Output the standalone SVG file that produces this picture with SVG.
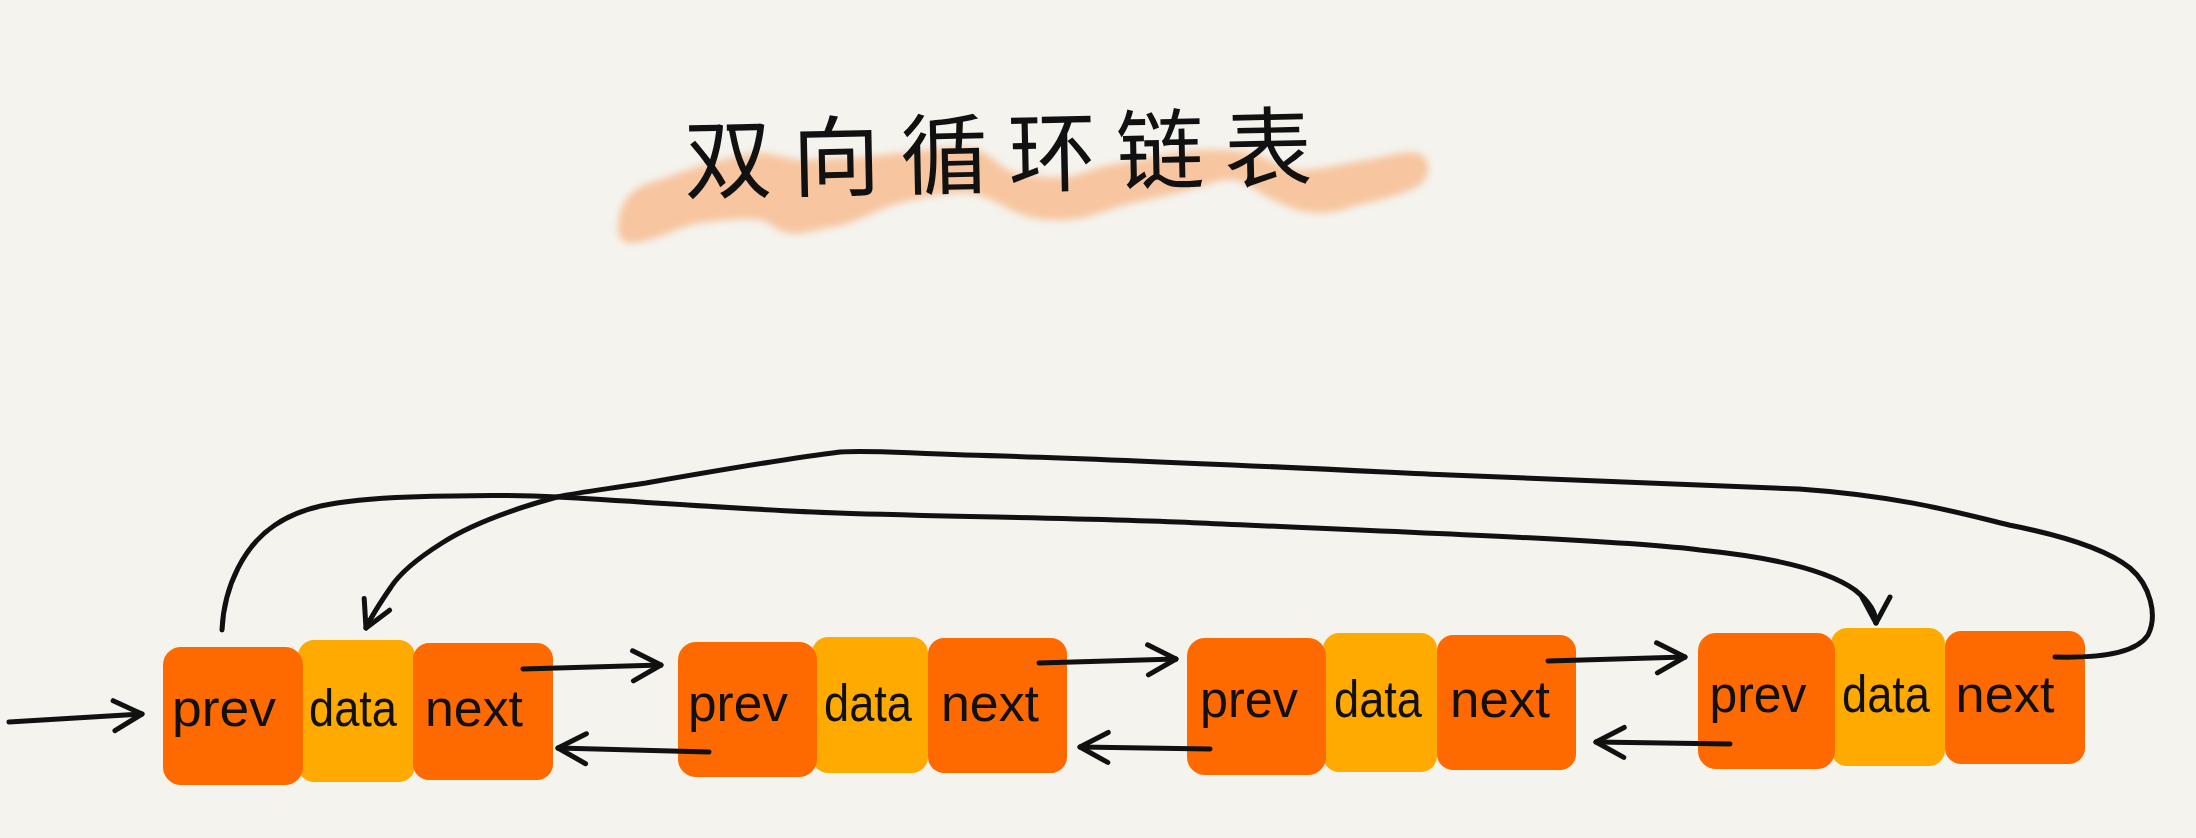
<svg xmlns="http://www.w3.org/2000/svg" width="2196" height="838" viewBox="0 0 2196 838">
<style>
.bg{fill:#F4F3EE}
.pn{fill:#FF6A00}
.dt{fill:#FFAA00}
.lbl{font-family:"Liberation Sans","DejaVu Sans",sans-serif;font-size:52px;fill:#111;text-anchor:middle}
.ttl{font-family:"Noto Sans CJK SC","Noto Sans",sans-serif;font-size:88px;fill:#111;letter-spacing:20px}
.ln{fill:none;stroke:#111;stroke-width:5;stroke-linecap:round;stroke-linejoin:round}
</style>
<defs>
<filter id="soft" x="-5%" y="-30%" width="110%" height="160%"><feGaussianBlur stdDeviation="3.5"/></filter>
<marker id="arr" markerUnits="userSpaceOnUse" viewBox="-34 -20 40 40" refX="0" refY="0" markerWidth="40" markerHeight="40" orient="auto">
<path d="M-28,-15 L0,0 L-28,15" fill="none" stroke="#111" stroke-width="5" stroke-linecap="round" stroke-linejoin="round"/>
</marker>
<marker id="arrc" markerUnits="userSpaceOnUse" viewBox="-34 -20 40 40" refX="0" refY="0" markerWidth="40" markerHeight="40" orient="auto">
<path d="M-26,-14 L0,0 L-26,14" fill="none" stroke="#111" stroke-width="5" stroke-linecap="round" stroke-linejoin="round"/>
</marker>
</defs>
<rect class="bg" x="0" y="0" width="2196" height="838"/>
<g id="title">
<path d="M620,213 C625,195 638,186 650,183 C675,175 690,168 710,163 C730,158 745,153 760,153 C780,154 790,160 800,160 C820,160 835,158 850,158 C870,157 885,154 900,153 C930,150 950,146 967,147 C990,150 1000,170 1017,173 C1035,176 1050,178 1067,177 C1080,175 1090,170 1100,167 C1140,160 1170,152 1200,150 C1220,149 1235,150 1250,153 C1270,158 1285,170 1300,170 C1320,170 1345,163 1367,160 C1385,157 1405,150 1417,153 C1432,157 1432,178 1417,187 C1400,195 1385,199 1367,203 C1350,207 1335,214 1317,213 C1295,212 1280,203 1267,197 C1255,190 1245,181 1233,180 C1220,179 1210,184 1200,187 C1175,194 1155,198 1133,203 C1110,208 1090,219 1067,220 C1045,221 1030,218 1017,213 C1000,205 985,194 967,193 C945,192 920,198 900,203 C875,210 855,224 833,227 C815,230 800,236 787,233 C775,230 770,222 760,220 C740,217 720,221 700,223 C680,226 660,240 633,243 C620,244 615,235 620,213 Z" fill="#F8BE93" opacity="0.85" filter="url(#soft)"/>
<text class="ttl" x="684" y="186" transform="rotate(-1.2 1000 150)">双向循环链表</text>
</g>
<g id="node1">
<rect class="dt" x="298" y="640" width="117" height="142" rx="16"/>
<rect class="pn" x="163" y="647" width="140" height="138" rx="18"/>
<rect class="pn" x="413" y="643" width="140" height="137" rx="16"/>
<text class="lbl" x="224" y="726" textLength="104" lengthAdjust="spacingAndGlyphs">prev</text>
<text class="lbl" x="353" y="726" textLength="88" lengthAdjust="spacingAndGlyphs">data</text>
<text class="lbl" x="474" y="726" textLength="98" lengthAdjust="spacingAndGlyphs">next</text>
</g>
<g id="node2">
<rect class="dt" x="812" y="637" width="116" height="136" rx="16"/>
<rect class="pn" x="678" y="642" width="139" height="135" rx="18"/>
<rect class="pn" x="928" y="638" width="139" height="135" rx="16"/>
<text class="lbl" x="738" y="721" textLength="100" lengthAdjust="spacingAndGlyphs">prev</text>
<text class="lbl" x="868" y="721" textLength="88" lengthAdjust="spacingAndGlyphs">data</text>
<text class="lbl" x="990" y="721" textLength="98" lengthAdjust="spacingAndGlyphs">next</text>
</g>
<g id="node3">
<rect class="dt" x="1323" y="633" width="114" height="139" rx="16"/>
<rect class="pn" x="1187" y="638" width="139" height="137" rx="18"/>
<rect class="pn" x="1437" y="635" width="139" height="135" rx="16"/>
<text class="lbl" x="1249" y="717" textLength="98" lengthAdjust="spacingAndGlyphs">prev</text>
<text class="lbl" x="1378" y="717" textLength="88" lengthAdjust="spacingAndGlyphs">data</text>
<text class="lbl" x="1500" y="717" textLength="100" lengthAdjust="spacingAndGlyphs">next</text>
</g>
<g id="node4">
<rect class="dt" x="1831" y="628" width="114" height="138" rx="16"/>
<rect class="pn" x="1698" y="633" width="137" height="136" rx="18"/>
<rect class="pn" x="1945" y="631" width="140" height="133" rx="16"/>
<text class="lbl" x="1758" y="712" textLength="97" lengthAdjust="spacingAndGlyphs">prev</text>
<text class="lbl" x="1886" y="712" textLength="88" lengthAdjust="spacingAndGlyphs">data</text>
<text class="lbl" x="2005" y="712" textLength="99" lengthAdjust="spacingAndGlyphs">next</text>
</g>
<g id="connectors">
<path class="ln" d="M9,722 L142,714" marker-end="url(#arr)"/>
<path class="ln" d="M523,669 L661,665" marker-end="url(#arr)"/>
<path class="ln" d="M709,752 L558,748" marker-end="url(#arr)"/>
<path class="ln" d="M1039,663 L1176,659" marker-end="url(#arr)"/>
<path class="ln" d="M1210,749 L1080,747" marker-end="url(#arr)"/>
<path class="ln" d="M1548,661 L1685,657" marker-end="url(#arr)"/>
<path class="ln" d="M1730,744 L1596,742" marker-end="url(#arr)"/>
<path class="ln" d="M222,630 C224,585 245,545 275,525 C300,508 330,500 410,497 C470,495 520,495 557,497 C650,502 750,510 838,513 C950,517 1100,518 1200,523 C1400,532 1620,540 1700,550 C1780,558 1830,572 1855,590 C1870,602 1876,612 1876,623" marker-end="url(#arrc)"/>
<path class="ln" d="M2055,657 C2095,658 2135,655 2148,635 C2158,615 2150,585 2130,568 C2105,548 2060,535 2009,525 C1960,513 1900,496 1799,489 C1700,484 1600,482 1450,475 C1300,468 1100,458 965,455 C900,453 870,450 840,452 C790,458 720,470 646,483 C600,490 580,492 557,497 C510,510 470,525 442,543 C415,560 400,573 391,587 C380,603 372,615 366,628" marker-end="url(#arrc)"/>
</g>
</svg>
